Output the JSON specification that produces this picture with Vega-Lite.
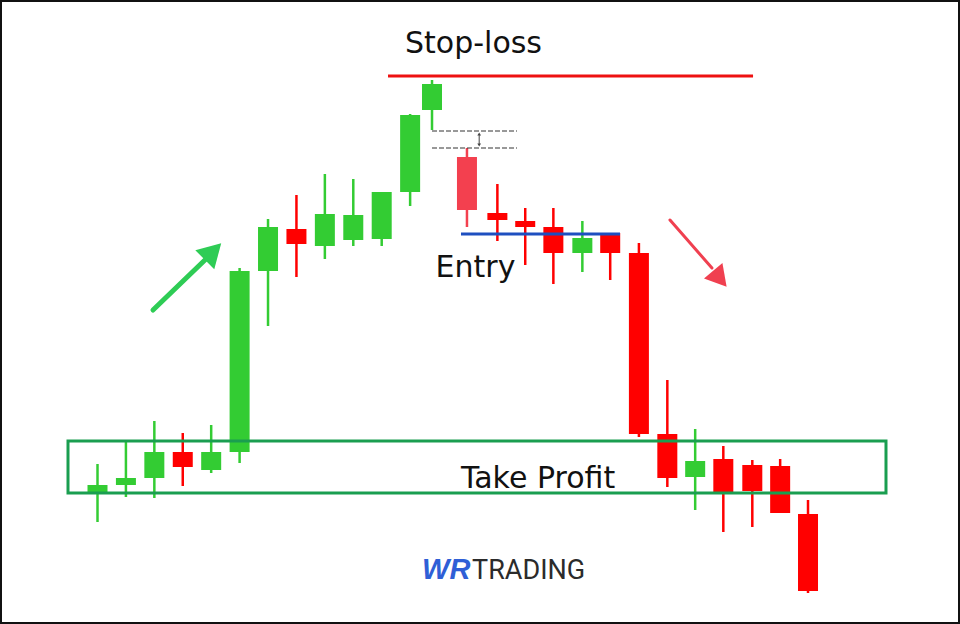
{
  "$schema": "https://vega.github.io/schema/vega-lite/v6.json",
  "width": 960,
  "height": 624,
  "autosize": {"type": "none"},
  "padding": 0,
  "background": "#ffffff",
  "config": {"view": {"stroke": "#111111", "strokeWidth": 4}},
  "datasets": {
    "candles": [
      {"t": 1, "open": 132, "close": 139, "high": 160, "low": 102, "kind": "bull"},
      {"t": 2, "open": 139, "close": 146, "high": 184, "low": 127, "kind": "bull"},
      {"t": 3, "open": 146, "close": 172, "high": 203, "low": 126, "kind": "bull"},
      {"t": 4, "open": 172, "close": 157, "high": 191, "low": 138, "kind": "bear"},
      {"t": 5, "open": 154, "close": 172, "high": 199, "low": 151, "kind": "bull"},
      {"t": 6, "open": 172, "close": 353, "high": 356, "low": 161, "kind": "bull"},
      {"t": 7, "open": 353, "close": 397, "high": 405, "low": 298, "kind": "bull"},
      {"t": 8, "open": 395, "close": 380, "high": 429, "low": 347, "kind": "bear"},
      {"t": 9, "open": 378, "close": 410, "high": 450, "low": 365, "kind": "bull"},
      {"t": 10, "open": 384, "close": 409, "high": 445, "low": 378, "kind": "bull"},
      {"t": 11, "open": 385, "close": 432, "high": 432, "low": 378, "kind": "bull"},
      {"t": 12, "open": 432, "close": 509, "high": 510, "low": 418, "kind": "bull"},
      {"t": 12.77, "open": 514, "close": 540, "high": 544, "low": 494, "kind": "bull"},
      {"t": 14, "open": 467, "close": 414, "high": 476, "low": 397, "kind": "signal"},
      {"t": 15.07, "open": 411, "close": 404, "high": 440, "low": 383, "kind": "bear"},
      {"t": 16.05, "open": 403, "close": 397, "high": 416, "low": 359, "kind": "bear"},
      {"t": 17.04, "open": 397, "close": 371, "high": 416, "low": 340, "kind": "bear"},
      {"t": 18.06, "open": 371, "close": 386, "high": 403, "low": 352, "kind": "bull"},
      {"t": 19.04, "open": 391, "close": 371, "high": 391, "low": 344, "kind": "bear"},
      {"t": 20.05, "open": 371, "close": 190, "high": 381, "low": 187, "kind": "bear"},
      {"t": 21.05, "open": 190, "close": 146, "high": 244, "low": 137, "kind": "bear"},
      {"t": 22.03, "open": 147, "close": 163, "high": 195, "low": 114, "kind": "bull"},
      {"t": 23.02, "open": 165, "close": 132, "high": 178, "low": 92, "kind": "bear"},
      {"t": 24.04, "open": 159, "close": 133, "high": 164, "low": 97, "kind": "bear"},
      {"t": 25.02, "open": 158, "close": 111, "high": 165, "low": 111, "kind": "bear"},
      {"t": 26, "open": 110, "close": 33, "high": 124, "low": 31, "kind": "bear"}
    ],
    "zone": [
      {"from": -0.038, "to": 28.744, "low": 131, "high": 183}
    ],
    "levels": [
      {"name": "stop", "from": 11.222, "to": 24.066, "price": 548},
      {"name": "entry", "from": 13.79, "to": 19.385, "price": 390},
      {"name": "gapHigh", "from": 12.77, "to": 15.76, "price": 493},
      {"name": "gapLow", "from": 12.77, "to": 15.76, "price": 476}
    ],
    "gap": [
      {"t": 14.43, "top": 490, "bottom": 479}
    ],
    "arrows": [
      {"name": "rise", "t0": 2.953, "p0": 314, "t1": 4.853, "p1": 366, "ht": 5.064, "hp": 372.5, "angle": 45},
      {"name": "fall", "t0": 21.144, "p0": 404, "t1": 22.62, "p1": 356, "ht": 22.9, "hp": 345.3, "angle": 140}
    ],
    "labels": [
      {"text": "Stop-loss", "t": 14.23, "p": 571},
      {"text": "Entry", "t": 14.3, "p": 347},
      {"text": "Take Profit", "t": 16.5, "p": 136}
    ],
    "logo": [
      {"part": "WR", "t": 12.418, "p": 45},
      {"part": "TRADING", "t": 14.18, "p": 45}
    ]
  },
  "encoding": {
    "x": {"type": "quantitative", "scale": {"domain": [-2.4307, 31.348], "nice": false, "zero": false, "padding": 0}, "axis": null},
    "y": {"type": "quantitative", "scale": {"domain": [0, 624], "nice": false, "zero": false, "padding": 0}, "axis": null}
  },
  "layer": [
    {
      "data": {"name": "candles"},
      "mark": {"type": "rule", "strokeWidth": 2.5},
      "encoding": {
        "x": {"field": "t", "type": "quantitative"},
        "y": {"field": "low", "type": "quantitative"},
        "y2": {"field": "high"},
        "color": {"field": "kind", "type": "nominal", "scale": {"domain": ["bull", "bear", "signal"], "range": ["#33cc33", "#ff0000", "#f3404f"]}, "legend": null}
      }
    },
    {
      "data": {"name": "candles"},
      "mark": {"type": "bar", "size": 20},
      "encoding": {
        "x": {"field": "t", "type": "quantitative"},
        "y": {"field": "open", "type": "quantitative"},
        "y2": {"field": "close"},
        "color": {"field": "kind", "type": "nominal", "legend": null}
      }
    },
    {
      "data": {"name": "zone"},
      "mark": {"type": "rect", "fill": null, "fillOpacity": 0, "stroke": "#1a9e50", "strokeWidth": 3},
      "encoding": {
        "x": {"field": "from", "type": "quantitative"},
        "x2": {"field": "to"},
        "y": {"field": "low", "type": "quantitative"},
        "y2": {"field": "high"}
      }
    },
    {
      "data": {"name": "levels"},
      "transform": [{"filter": "datum.name == 'stop'"}],
      "mark": {"type": "rule", "stroke": "#ee1111", "strokeWidth": 3},
      "encoding": {
        "x": {"field": "from", "type": "quantitative"},
        "x2": {"field": "to"},
        "y": {"field": "price", "type": "quantitative"}
      }
    },
    {
      "data": {"name": "levels"},
      "transform": [{"filter": "datum.name == 'entry'"}],
      "mark": {"type": "rule", "stroke": "#1e4fc0", "strokeWidth": 3},
      "encoding": {
        "x": {"field": "from", "type": "quantitative"},
        "x2": {"field": "to"},
        "y": {"field": "price", "type": "quantitative"}
      }
    },
    {
      "data": {"name": "levels"},
      "transform": [{"filter": "datum.name == 'gapHigh' || datum.name == 'gapLow'"}],
      "mark": {"type": "rule", "stroke": "#333333", "strokeWidth": 1, "strokeDash": [5, 2]},
      "encoding": {
        "x": {"field": "from", "type": "quantitative"},
        "x2": {"field": "to"},
        "y": {"field": "price", "type": "quantitative"}
      }
    },
    {
      "data": {"name": "gap"},
      "mark": {"type": "rule", "stroke": "#444444", "strokeWidth": 1},
      "encoding": {
        "x": {"field": "t", "type": "quantitative"},
        "y": {"field": "bottom", "type": "quantitative"},
        "y2": {"field": "top"}
      }
    },
    {
      "data": {"name": "gap"},
      "mark": {"type": "point", "shape": "triangle-up", "size": 14, "filled": true, "color": "#444444", "opacity": 1},
      "encoding": {
        "x": {"field": "t", "type": "quantitative"},
        "y": {"field": "top", "type": "quantitative"}
      }
    },
    {
      "data": {"name": "gap"},
      "mark": {"type": "point", "shape": "triangle-down", "size": 14, "filled": true, "color": "#444444", "opacity": 1},
      "encoding": {
        "x": {"field": "t", "type": "quantitative"},
        "y": {"field": "bottom", "type": "quantitative"}
      }
    },
    {
      "data": {"name": "arrows"},
      "transform": [{"filter": "datum.name == 'rise'"}],
      "mark": {"type": "rule", "stroke": "#2ecc55", "strokeWidth": 5, "strokeCap": "round"},
      "encoding": {
        "x": {"field": "t0", "type": "quantitative"},
        "y": {"field": "p0", "type": "quantitative"},
        "x2": {"field": "t1"},
        "y2": {"field": "p1"}
      }
    },
    {
      "data": {"name": "arrows"},
      "transform": [{"filter": "datum.name == 'rise'"}],
      "mark": {"type": "point", "shape": "triangle-up", "size": 720, "filled": true, "color": "#2ecc55", "opacity": 1},
      "encoding": {
        "x": {"field": "ht", "type": "quantitative"},
        "y": {"field": "hp", "type": "quantitative"},
        "angle": {"field": "angle", "type": "quantitative", "scale": null}
      }
    },
    {
      "data": {"name": "arrows"},
      "transform": [{"filter": "datum.name == 'fall'"}],
      "mark": {"type": "rule", "stroke": "#f04050", "strokeWidth": 3, "strokeCap": "round"},
      "encoding": {
        "x": {"field": "t0", "type": "quantitative"},
        "y": {"field": "p0", "type": "quantitative"},
        "x2": {"field": "t1"},
        "y2": {"field": "p1"}
      }
    },
    {
      "data": {"name": "arrows"},
      "transform": [{"filter": "datum.name == 'fall'"}],
      "mark": {"type": "point", "shape": "triangle-up", "size": 580, "filled": true, "color": "#f04050", "opacity": 1},
      "encoding": {
        "x": {"field": "ht", "type": "quantitative"},
        "y": {"field": "hp", "type": "quantitative"},
        "angle": {"field": "angle", "type": "quantitative", "scale": null}
      }
    },
    {
      "data": {"name": "labels"},
      "mark": {"type": "text", "font": "DejaVu Sans", "fontSize": 30, "align": "center", "baseline": "alphabetic", "color": "#111111"},
      "encoding": {
        "x": {"field": "t", "type": "quantitative"},
        "y": {"field": "p", "type": "quantitative"},
        "text": {"field": "text"}
      }
    },
    {
      "data": {"name": "logo"},
      "transform": [{"filter": "datum.part == 'WR'"}],
      "mark": {"type": "text", "font": "Liberation Sans", "fontSize": 29, "fontWeight": "bold", "fontStyle": "italic", "align": "left", "baseline": "alphabetic", "color": "#2f5fd6"},
      "encoding": {
        "x": {"field": "t", "type": "quantitative"},
        "y": {"field": "p", "type": "quantitative"},
        "text": {"field": "part"}
      }
    },
    {
      "data": {"name": "logo"},
      "transform": [{"filter": "datum.part == 'TRADING'"}],
      "mark": {"type": "text", "font": "Roboto", "fontSize": 27, "align": "left", "baseline": "alphabetic", "color": "#2b2b2b"},
      "encoding": {
        "x": {"field": "t", "type": "quantitative"},
        "y": {"field": "p", "type": "quantitative"},
        "text": {"field": "part"}
      }
    }
  ]
}
